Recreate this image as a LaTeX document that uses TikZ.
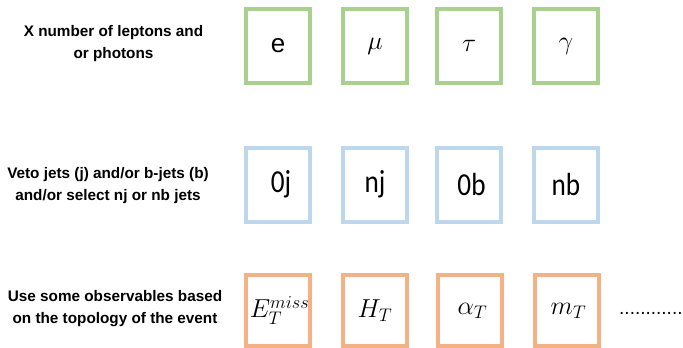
\RequirePackage{fix-cm}
\documentclass[tikz,border=0pt]{standalone}
\usepackage{fontspec}
\setmainfont{Liberation Sans}
\newfontfamily\cellsans[FakeStretch=0.85]{Carlito}

\definecolor{leptongreen}{RGB}{169,209,142}
\definecolor{jetblue}{RGB}{189,215,238}
\definecolor{obsorange}{RGB}{244,177,131}

\begin{document}
\begin{tikzpicture}[x=1pt,y=-1pt,
  cell/.style={draw, line width=4pt, minimum width=64pt, minimum height=74pt,
    inner sep=0pt, font=\fontsize{26}{30}\selectfont},
  lepton/.style={cell, draw=leptongreen},
  jetcell/.style={cell, draw=jetblue, font=\cellsans\fontsize{32}{36}\selectfont},
  obs/.style={cell, draw=obsorange, minimum height=71pt},
  rowlabel/.style={align=center, inner sep=0pt,
    font=\fontsize{15.3}{22}\selectfont\bfseries}
]
\useasboundingbox (0,0) rectangle (683,348);

% row 1: leptons and photons
\node[rowlabel] (l1) at (113.5,44) {X number of leptons and\\or photons};
\node[lepton] (e)   at (278,46)   {e};
\node[lepton] (mu)  at (375,46)   {$\mu$};
\node[lepton] (tau) at (469,46)   {$\tau$};
\node[lepton] (gam) at (566,46)   {$\gamma$};

% row 2: jet requirements
\node[rowlabel] (l2) at (108,186) {Veto jets (j) and/or b-jets (b)\\and/or select nj or nb jets};
\node[jetcell] (zj) at (278,184.5) {\hspace{6pt}0j};
\node[jetcell] (nj) at (375,184.5) {nj};
\node[jetcell] (zb) at (469,184.5) {\hspace{5pt}0b};
\node[jetcell] (nb) at (566,184.5) {nb};

% row 3: event observables
\node[rowlabel] (l3) at (115,308.5) {Use some observables based\\on the topology of the event};
\node[obs] (met) at (278,310.5) {\hspace{3pt}$E_T^{miss}$};
\node[obs] (ht)  at (375,310.5) {$H_T$};
\node[obs] (at)  at (470,310.5) {\hspace{5pt}$\alpha_T$};
\node[obs] (mt)  at (567,310.5) {\hspace{3pt}$m_T$};

\node[anchor=base west, inner sep=0pt, font=\fontsize{19}{22}\selectfont] (more) at (619,314) {............};
\end{tikzpicture}
\end{document}
